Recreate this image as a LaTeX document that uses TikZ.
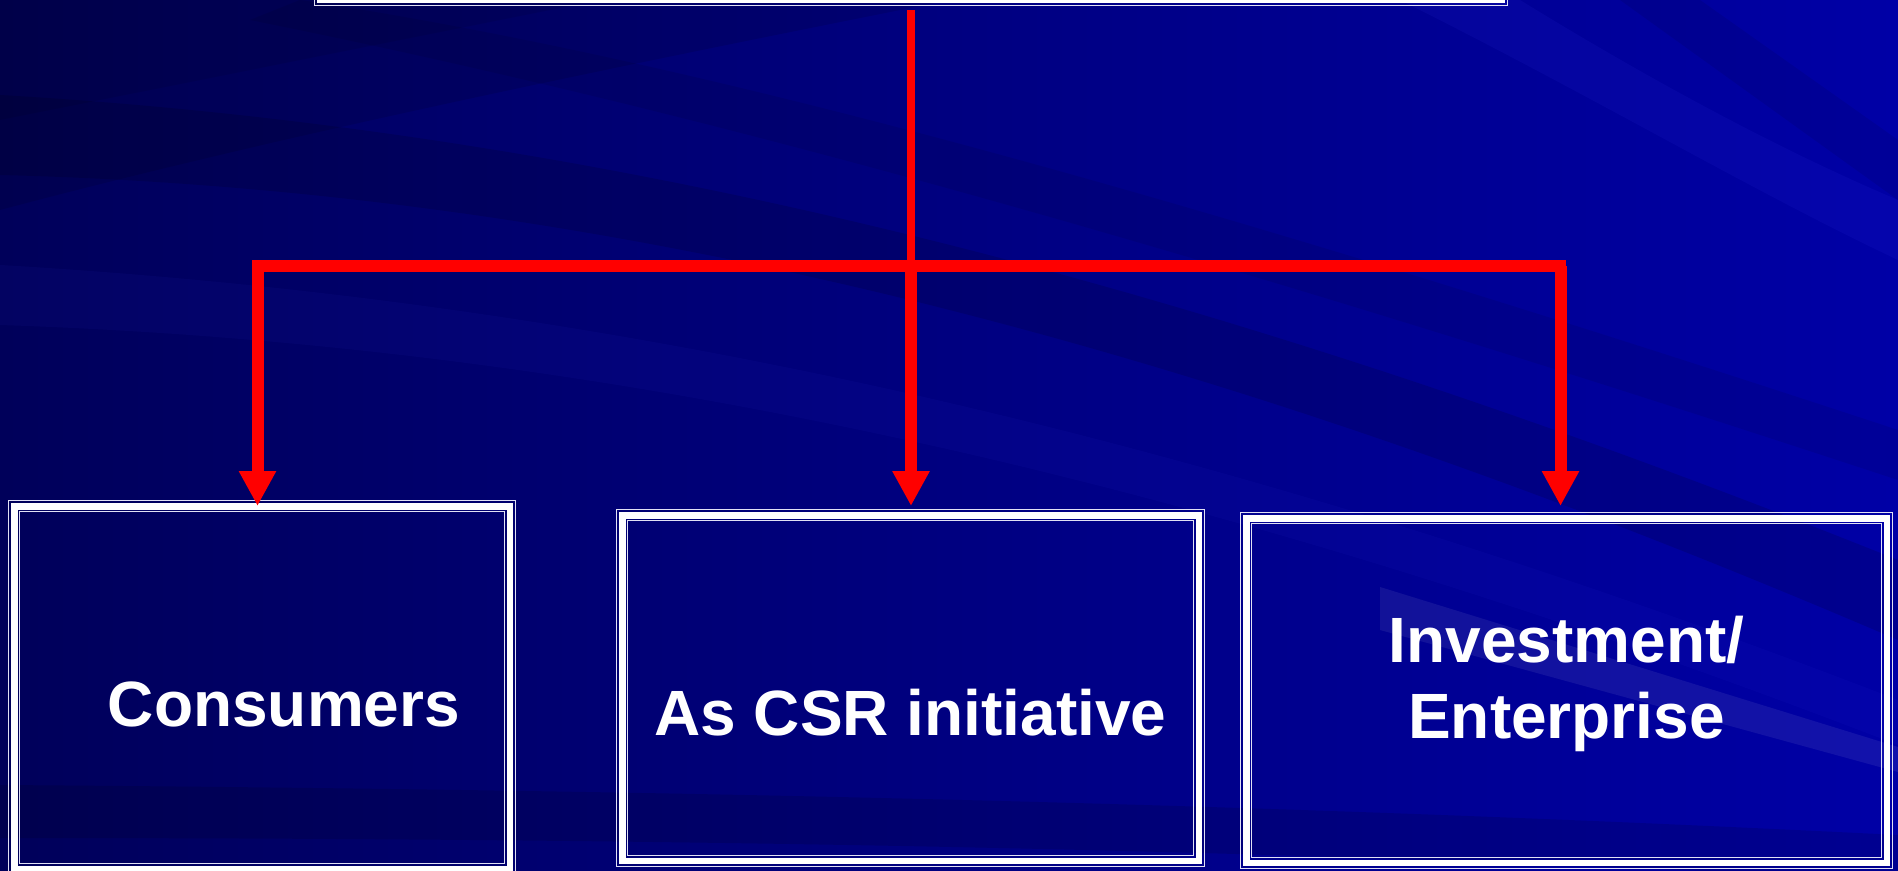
\documentclass[tikz,border=0pt]{standalone}
\usepackage{fontspec}
\setmainfont{Liberation Sans}
\usetikzlibrary{arrows.meta,fit,calc}
\definecolor{bgL}{RGB}{0,0,90}
\definecolor{bgR}{RGB}{0,0,166}
\definecolor{arrowred}{RGB}{255,0,0}
\definecolor{thinline}{RGB}{225,225,245}
\newcommand{\tripleframe}[1]{%
  \draw[thinline, line width=0.7pt] ([shift={(0.7,0.7)}]#1.north west) rectangle ([shift={(-0.7,-0.7)}]#1.south east);
  \draw[white, line width=3.25pt] ([shift={(6.25,6.25)}]#1.north west) rectangle ([shift={(-6.25,-6.25)}]#1.south east);
  \draw[thinline, line width=0.6pt] ([shift={(11.6,11.6)}]#1.north west) rectangle ([shift={(-11.6,-11.6)}]#1.south east);
}
\begin{document}
\begin{tikzpicture}[x=0.5pt,y=-0.5pt,
  framebox/.style={inner sep=0pt, outer sep=0pt, draw=none, rectangle},
  lbl/.style={text=white, font=\bfseries\fontsize{32}{38}\selectfont, inner sep=0pt, anchor=base},
  redbar/.style={draw=arrowred, line width=6pt},
  redarrow/.style={draw=arrowred, line width=6pt, -{Triangle[width=17.5pt,length=17.5pt]}},
  ]
\useasboundingbox (0,0) rectangle (1898,871);
\clip (0,0) rectangle (1898,871);
% background
\shade[left color=bgL, right color=bgR] (0,0) rectangle (1898,871);
\fill[black, opacity=0.10] (0,0) -- (950,0) .. controls (650,60) and (300,130) .. (0,210) -- cycle;
\fill[black, opacity=0.08] (0,0) -- (600,0) .. controls (400,40) and (200,80) .. (0,120) -- cycle;
\fill[black, opacity=0.13] (0,95) .. controls (600,130) and (1200,280) .. (1898,560) -- (1898,640) .. controls (1200,340) and (600,190) .. (0,175) -- cycle;
\fill[black, opacity=0.08] (300,0) .. controls (700,60) and (1200,200) .. (1898,430) -- (1898,480) .. controls (1200,250) and (700,110) .. (250,20) -- cycle;
\fill[blue!70!white, opacity=0.05] (0,265) .. controls (600,300) and (1200,430) .. (1898,700) -- (1898,745) .. controls (1200,475) and (600,345) .. (0,325) -- cycle;
\fill[blue!70!white, opacity=0.08] (1400,0) -- (1520,0) .. controls (1650,80) and (1780,150) .. (1898,200) -- (1898,260) .. controls (1750,190) and (1600,100) .. (1400,0) -- cycle;
\fill[black, opacity=0.08] (1620,0) -- (1700,0) -- (1898,140) -- (1898,200) -- cycle;
\fill[black, opacity=0.12] (0,785) .. controls (700,790) and (1300,805) .. (1898,835) -- (1898,880) .. controls (1300,850) and (700,838) .. (0,838) -- cycle;
\fill[white, opacity=0.07] (1380,587) -- (1898,747) -- (1898,772) -- (1380,630) -- cycle;

% boxes
\node[framebox, fit={(314,-60)(1508,6.3)}] (top) {};
\node[framebox, fit={(8,500)(516,875)}] (box1) {};
\node[framebox, fit={(616,509)(1205,867)}] (box2) {};
\node[framebox, fit={(1240,512)(1893,869)}] (box3) {};
\tripleframe{top}
\tripleframe{box1}
\tripleframe{box2}
\tripleframe{box3}

% labels
\node[lbl] (t1) at (284,726) {Consumers};
\node[lbl] (t2) at (910.5,735) {As CSR initiative};
\node[lbl] (t3a) at (1566.5,662) {Investment/};
\node[lbl] (t3b) at (1566.5,738) {Enterprise};

% connectors
\coordinate (hl) at (252,266.5);
\coordinate (hr) at (1566,266.5);
\coordinate (jl) at (257.5,266.5);
\coordinate (jc) at (911,266.5);
\coordinate (jr) at (1560.5,266.5);
\draw[draw=arrowred, line width=3.75pt, shorten <=2pt] (top.south) -- (jc);
\draw[redbar] (hl) -- (hr);
\draw[redarrow, shorten >=-3pt] (jl) -- (jl |- box1.north);
\draw[redarrow, shorten >=1.5pt] (jc) -- (jc |- box2.north);
\draw[redarrow, shorten >=3pt] (jr) -- (jr |- box3.north);
\end{tikzpicture}
\end{document}
